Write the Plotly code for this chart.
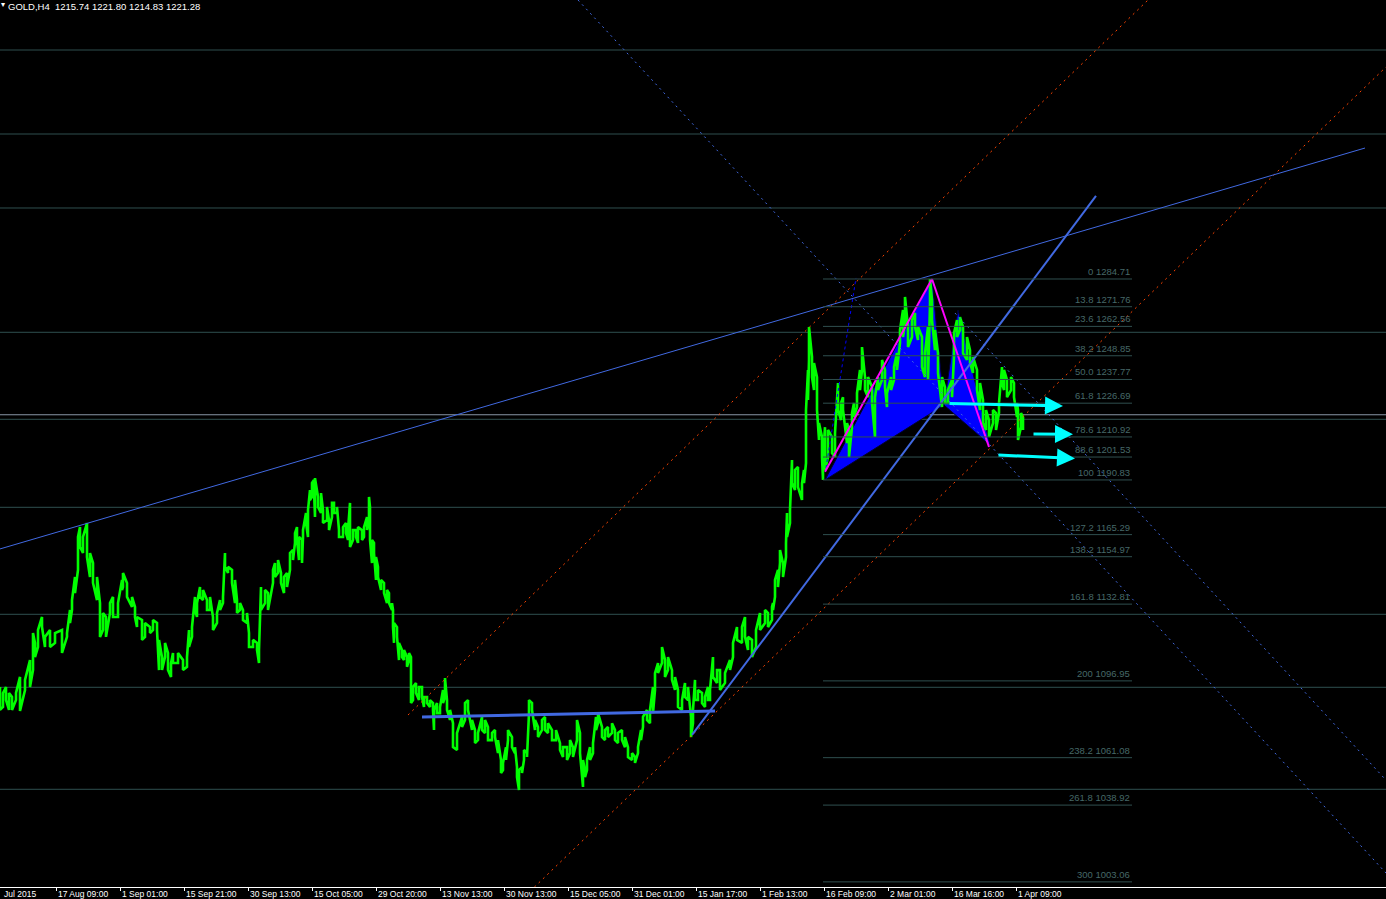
import plotly.graph_objects as go

# ---------------- data ----------------
header_text = "GOLD,H4\u00a0\u00a01215.74 1221.80 1214.83 1221.28"

bar_x = [0, 3, 6, 9, 12, 16, 20, 25, 30, 33, 35, 38, 42, 45, 50, 55, 62, 67, 70, 72, 75, 78, 80, 83, 87, 90, 93, 97,
         100, 103, 106, 110, 113, 118, 122, 123, 127, 132, 135, 137, 142, 145, 150, 153, 157, 159, 162, 165, 168, 171,
         173, 178, 183, 187, 189, 192, 195, 197, 200, 203, 207, 210, 213, 217, 220, 223, 225, 228, 232, 235, 237, 240,
         243, 247, 249, 253, 257, 259, 261, 265, 268, 273, 275, 278, 281, 284, 287, 290, 293, 295, 297, 299, 302, 303,
         306, 308, 310, 312, 314, 315, 318, 321, 323, 327, 329, 332, 334, 337, 339, 343, 346, 348, 350, 353, 356, 358,
         362, 364, 367, 369, 370, 372, 374, 376, 378, 381, 384, 387, 389, 392, 393, 394, 397, 399, 402, 404, 407, 409,
         411, 413, 416, 419, 422, 424, 427, 430, 433, 434, 437, 440, 443, 445, 447, 450, 453, 457, 462, 465, 468, 472,
         475, 478, 482, 485, 488, 492, 495, 498, 501, 503, 506, 508, 512, 515, 517, 519, 522, 524, 527, 529, 532, 535,
         538, 542, 545, 548, 552, 556, 560, 563, 567, 570, 573, 577, 580, 583, 585, 587, 590, 593, 596, 598, 602, 605,
         608, 612, 615, 618, 622, 625, 628, 632, 635, 638, 641, 643, 647, 650, 653, 655, 658, 662, 665, 668, 672, 675,
         678, 682, 685, 688, 691, 693, 695, 698, 702, 705, 708, 710, 713, 717, 720, 725, 730, 733, 737, 742, 745, 748,
         752, 756, 760, 765, 768, 772, 773, 775, 778, 780, 783, 786, 787, 790, 792, 795, 798, 802, 804, 806, 808, 809,
         812, 814, 817, 819, 822, 823, 825, 828, 832, 835, 838, 841, 843, 847, 849, 852, 854, 857, 860, 862, 865, 868,
         872, 875, 878, 882, 885, 887, 891, 894, 897, 900, 903, 905, 908, 912, 915, 918, 922, 925, 928, 930, 932, 935,
         938, 942, 945, 948, 952, 954, 957, 960, 963, 967, 970, 973, 977, 980, 983, 986, 989, 993, 996, 999, 1002,
         1004, 1007, 1011, 1014, 1017, 1018, 1021, 1023]

bar_high = [1094.1, 1091.3, 1094.1, 1091.3, 1089.4, 1091.3, 1098.8, 1097.4, 1106.7, 1119.3, 1114.7, 1120.7, 1126.8,
            1117.5, 1120.7, 1119.3, 1120.7, 1119.3, 1130.1, 1134.7, 1145.5, 1164.2, 1168.8, 1164.2, 1170.7, 1156.7,
            1152.0, 1145.5, 1133.3, 1128.7, 1126.8, 1133.3, 1136.2, 1133.3, 1144.1, 1147.4, 1142.7, 1136.2, 1131.5,
            1126.8, 1125.4, 1124.0, 1122.1, 1125.4, 1124.0, 1116.1, 1108.1, 1114.7, 1110.0, 1105.3, 1110.0, 1110.0,
            1106.7, 1108.1, 1120.7, 1122.1, 1136.2, 1133.3, 1140.8, 1139.4, 1134.7, 1136.2, 1126.8, 1128.7, 1134.7,
            1136.2, 1156.7, 1150.2, 1148.8, 1144.1, 1134.7, 1133.3, 1130.1, 1128.7, 1119.3, 1116.1, 1114.7, 1111.4,
            1140.8, 1139.4, 1138.0, 1148.8, 1152.0, 1153.4, 1147.4, 1145.5, 1147.4, 1156.7, 1158.1, 1166.0, 1168.8,
            1164.2, 1162.8, 1167.4, 1175.4, 1176.8, 1186.1, 1189.4, 1190.8, 1191.7, 1182.9, 1184.7, 1176.8, 1178.2,
            1172.1, 1180.1, 1180.1, 1178.2, 1167.4, 1168.8, 1170.7, 1167.4, 1180.1, 1167.4, 1167.4, 1168.8, 1167.4,
            1168.8, 1173.5, 1182.9, 1178.2, 1162.8, 1161.4, 1154.8, 1150.2, 1144.1, 1142.7, 1139.4, 1138.0, 1133.3,
            1130.1, 1124.0, 1122.1, 1114.7, 1111.4, 1111.4, 1108.1, 1110.0, 1108.1, 1094.1, 1096.0, 1094.1, 1094.1,
            1089.4, 1089.4, 1088.0, 1086.6, 1083.4, 1086.6, 1084.8, 1092.7, 1098.3, 1088.0, 1083.4, 1077.2, 1072.6,
            1080.1, 1086.6, 1088.0, 1078.7, 1074.0, 1072.6, 1080.1, 1078.7, 1075.4, 1072.6, 1074.0, 1069.3, 1060.0,
            1058.6, 1066.0, 1074.0, 1070.7, 1066.0, 1056.7, 1055.3, 1056.7, 1064.7, 1063.2, 1088.0, 1086.6, 1078.7,
            1075.4, 1078.7, 1080.1, 1077.2, 1074.0, 1074.0, 1067.9, 1066.0, 1066.0, 1069.3, 1066.0, 1078.7, 1072.6,
            1060.0, 1055.3, 1060.0, 1066.0, 1067.9, 1080.1, 1081.9, 1075.4, 1074.0, 1075.4, 1077.2, 1074.0, 1072.6,
            1074.0, 1070.7, 1066.0, 1063.2, 1061.4, 1066.0, 1074.0, 1080.1, 1083.4, 1083.4, 1094.1, 1100.6, 1105.3,
            1112.8, 1106.7, 1108.1, 1102.0, 1098.8, 1092.7, 1088.0, 1096.0, 1094.1, 1080.1, 1083.4, 1097.4, 1092.7,
            1091.3, 1089.4, 1094.1, 1092.7, 1108.1, 1102.0, 1102.0, 1100.6, 1106.7, 1114.7, 1122.1, 1122.1, 1126.8,
            1117.5, 1116.1, 1120.7, 1128.7, 1130.1, 1128.7, 1131.5, 1133.3, 1144.1, 1148.8, 1158.1, 1152.0, 1161.4,
            1175.4, 1176.8, 1200.1, 1195.5, 1196.9, 1189.4, 1195.5, 1223.5, 1242.2, 1262.3, 1248.3, 1245.5, 1238.9,
            1217.4, 1210.9, 1201.5, 1215.5, 1214.2, 1210.9, 1212.8, 1236.1, 1226.8, 1229.5, 1217.4, 1214.2, 1222.1,
            1226.8, 1231.4, 1242.2, 1252.9, 1238.9, 1238.9, 1234.2, 1229.5, 1238.9, 1246.9, 1242.2, 1231.4, 1238.9,
            1243.6, 1250.1, 1260.9, 1270.2, 1276.3, 1262.3, 1265.5, 1268.8, 1262.3, 1257.6, 1250.1, 1262.3, 1284.7,
            1274.9, 1260.9, 1250.1, 1238.9, 1234.2, 1232.8, 1237.5, 1259.5, 1265.5, 1266.9, 1262.3, 1257.6, 1251.5,
            1248.3, 1242.2, 1236.1, 1228.2, 1223.5, 1218.8, 1223.5, 1222.1, 1226.8, 1243.6, 1242.2, 1237.5, 1238.9,
            1236.1, 1226.8, 1223.5, 1222.1, 1220.2]

bar_low = [1083.4, 1084.8, 1088.0, 1083.4, 1083.4, 1088.0, 1082.9, 1092.7, 1094.1, 1102.0, 1108.1, 1112.8, 1122.1,
           1112.8, 1112.8, 1114.7, 1110.0, 1117.5, 1124.0, 1130.1, 1138.0, 1148.8, 1159.5, 1156.7, 1154.8, 1145.5,
           1142.7, 1134.7, 1117.5, 1120.7, 1117.5, 1128.7, 1126.8, 1126.8, 1139.4, 1140.8, 1136.2, 1131.5, 1126.8,
           1122.1, 1116.1, 1117.5, 1119.3, 1120.7, 1120.7, 1102.0, 1102.0, 1108.1, 1102.0, 1098.8, 1105.3, 1105.3,
           1102.0, 1103.5, 1112.8, 1117.5, 1130.1, 1126.8, 1136.2, 1134.7, 1130.1, 1130.1, 1120.7, 1124.0, 1130.1,
           1133.3, 1150.2, 1147.4, 1142.7, 1133.3, 1128.7, 1130.1, 1125.4, 1124.0, 1112.8, 1112.8, 1111.4, 1105.3,
           1130.1, 1133.3, 1130.1, 1142.7, 1145.5, 1147.4, 1142.7, 1138.0, 1140.8, 1148.8, 1153.4, 1161.4, 1162.8,
           1153.4, 1152.0, 1164.2, 1170.7, 1164.2, 1181.5, 1182.9, 1186.1, 1173.5, 1178.2, 1175.4, 1170.7, 1172.1,
           1167.4, 1173.5, 1175.4, 1175.4, 1164.2, 1164.2, 1166.0, 1162.8, 1159.5, 1162.8, 1164.2, 1161.4, 1162.8,
           1164.2, 1167.4, 1172.1, 1162.8, 1152.0, 1156.7, 1144.1, 1145.5, 1139.4, 1138.0, 1133.3, 1133.3, 1130.1,
           1122.1, 1114.7, 1117.5, 1106.7, 1108.1, 1106.7, 1103.5, 1106.7, 1086.6, 1088.0, 1091.3, 1088.0, 1089.4,
           1084.8, 1086.6, 1084.8, 1083.4, 1074.0, 1081.9, 1081.9, 1086.6, 1089.4, 1083.4, 1078.7, 1066.0, 1064.7,
           1075.4, 1078.7, 1083.4, 1074.0, 1067.9, 1069.3, 1074.0, 1072.6, 1069.3, 1069.3, 1070.7, 1063.2, 1053.9,
           1055.3, 1060.0, 1069.3, 1066.0, 1063.2, 1052.0, 1046.0, 1053.9, 1060.0, 1061.4, 1081.9, 1083.4, 1074.0,
           1070.7, 1074.0, 1074.0, 1072.6, 1069.3, 1069.3, 1064.7, 1061.4, 1060.0, 1063.2, 1061.4, 1069.3, 1063.2,
           1047.4, 1052.0, 1055.3, 1060.0, 1063.2, 1074.0, 1077.2, 1070.7, 1069.3, 1070.7, 1072.6, 1069.3, 1067.9,
           1069.3, 1066.0, 1061.4, 1060.0, 1058.6, 1063.2, 1069.3, 1075.4, 1078.7, 1077.2, 1081.9, 1092.7, 1100.6,
           1105.3, 1098.8, 1102.0, 1097.4, 1092.7, 1084.8, 1083.4, 1089.4, 1088.0, 1070.7, 1077.2, 1088.0, 1088.0,
           1086.6, 1084.8, 1088.0, 1088.0, 1098.8, 1096.0, 1092.7, 1096.0, 1102.0, 1108.1, 1116.1, 1114.7, 1117.5,
           1111.4, 1108.1, 1112.8, 1120.7, 1124.0, 1122.1, 1125.4, 1130.1, 1136.2, 1140.8, 1152.0, 1145.5, 1154.8,
           1164.2, 1170.7, 1189.4, 1186.1, 1187.5, 1181.5, 1189.4, 1198.7, 1228.2, 1246.9, 1238.9, 1232.8, 1223.5,
           1209.5, 1201.5, 1190.8, 1195.5, 1201.5, 1203.4, 1201.5, 1223.5, 1218.8, 1223.5, 1208.1, 1201.5, 1215.5,
           1220.2, 1224.9, 1232.8, 1242.2, 1232.8, 1229.5, 1226.8, 1210.9, 1232.8, 1237.5, 1234.2, 1224.9, 1232.8,
           1237.5, 1242.2, 1254.8, 1257.6, 1264.1, 1252.9, 1257.6, 1262.3, 1256.2, 1243.6, 1238.9, 1237.5, 1272.6,
           1265.5, 1251.5, 1240.8, 1224.9, 1226.8, 1226.8, 1229.5, 1248.3, 1257.6, 1260.9, 1250.1, 1246.9, 1245.5,
           1240.8, 1232.8, 1223.5, 1217.4, 1214.2, 1210.9, 1217.4, 1214.2, 1222.1, 1236.1, 1232.8, 1229.5, 1232.8,
           1229.5, 1220.2, 1209.5, 1215.5, 1214.2]

bid_price = 1221.28
h_levels = [1391.69, 1352.45, 1317.88, 1259.81, 1219.16, 1178.05, 1128.06, 1093.96, 1046.31]

fib_names = ["0", "13.8", "23.6", "38.2", "50.0", "61.8", "78.6", "88.6", "100",
             "127.2", "138.2", "161.8", "200", "238.2", "261.8", "300"]
fib_prices = [1284.71, 1271.76, 1262.56, 1248.85, 1237.77, 1226.69, 1210.92, 1201.53, 1190.83,
              1165.29, 1154.97, 1132.81, 1096.95, 1061.08, 1038.92, 1003.06]
fib_bars = [823, 1132]

# trend lines: (bar, price) anchors
trend_upper = ([0, 1365], [1158.6, 1345.9])
trend_rise = ([692, 1096], [1071.7, 1323.5])
trend_flat = ([422, 715], [1080.1, 1082.9])
chan_red_upper = ([408, 1148], [1081.0, 1415.05])
chan_red_lower = ([530, 1386], [998.65, 1383.75])
dot_blue_a = ([578, 1386], [1415.05, 1007.2])
dot_blue_b = ([955, 1386], [1268.8, 1050.6])
dash_blue_steep = ([826, 856], [1196.4, 1285.2])

# harmonic pattern points X, A, B, C, D
pat_x = [825, 932, 944, 958, 990]
pat_p = [1190.8, 1284.7, 1225.8, 1270.2, 1207.2]
leg_xa = ([825, 932], [1194.7, 1284.7])
leg_ad = ([932, 989], [1284.7, 1206.2])

# cyan arrows: tail bar, tail price, head bar, head price
arrows = [(948, 1226.6, 1063, 1225.4),
          (1032, 1212.3, 1073, 1212.2),
          (997, 1202.5, 1075, 1200.9)]

tick_pos = [56, 120, 184, 248, 312, 376, 440, 504, 568, 632, 696, 760, 824, 888, 952, 1016]
tick_labels = ["17 Aug 09:00", "1 Sep 01:00", "15 Sep 21:00", "30 Sep 13:00", "15 Oct 05:00",
               "29 Oct 20:00", "13 Nov 13:00", "30 Nov 13:00", "15 Dec 05:00", "31 Dec 01:00",
               "15 Jan 17:00", "1 Feb 13:00", "16 Feb 09:00", "2 Mar 01:00", "16 Mar 16:00", "1 Apr 09:00"]
first_label = "Jul 2015"

# ---------------- figure ----------------
W, H = 1386, 899
FONT = "Liberation Sans, Arial, sans-serif"
GRID = "#2f4f4f"
fig = go.Figure()

# pattern fills
tri1 = [0, 1, 2, 0]
tri2 = [2, 3, 4, 2]
for tri in (tri1, tri2):
    fig.add_trace(go.Scatter(x=[pat_x[i] for i in tri], y=[pat_p[i] for i in tri],
                             mode="lines", fill="toself", fillcolor="#0000ff",
                             line=dict(color="#000033", width=1), hoverinfo="skip"))

# price bars (high-low snake)
xs, ys = [], []
for i, (bx, hi, lo) in enumerate(zip(bar_x, bar_high, bar_low)):
    xs += [bx, bx]
    ys += [hi, lo] if i % 2 == 0 else [lo, hi]
fig.add_trace(go.Scatter(x=xs, y=ys, mode="lines", line=dict(color="#00ff00", width=2.6),
                         hoverinfo="skip"))


def add_line(pts, color, width=1, dash="solid"):
    fig.add_trace(go.Scatter(x=pts[0], y=pts[1], mode="lines",
                             line=dict(color=color, width=width, dash=dash), hoverinfo="skip"))


add_line(chan_red_upper, "#ff4500", 1, "2px,4px")
add_line(chan_red_lower, "#ff4500", 1, "2px,4px")
add_line(dot_blue_a, "#4169e1", 1, "2px,4px")
add_line(dot_blue_b, "#4169e1", 1, "2px,4px")
add_line(dash_blue_steep, "#0000ff", 1, "3px,3px")
add_line(trend_upper, "#4169e1", 1)
add_line(trend_rise, "#4169e1", 2)
add_line(trend_flat, "#4169e1", 3)
add_line(leg_xa, "#ff00ff", 2)
add_line(leg_ad, "#ff00ff", 2)

shapes = []
for p in h_levels:
    shapes.append(dict(type="line", xref="paper", x0=0, x1=1, yref="y", y0=p, y1=p,
                       line=dict(color=GRID, width=1), layer="below"))
shapes.append(dict(type="line", xref="paper", x0=0, x1=1, yref="y", y0=bid_price, y1=bid_price,
                   line=dict(color="#8896a6", width=1), layer="below"))
for p in fib_prices:
    shapes.append(dict(type="line", xref="x", x0=fib_bars[0], x1=fib_bars[1], yref="y", y0=p, y1=p,
                       line=dict(color=GRID, width=1), layer="above"))

annotations = []
for n, p in zip(fib_names, fib_prices):
    annotations.append(dict(x=fib_bars[1], y=p, xref="x", yref="y", text=f"{n} {p:.2f}",
                            showarrow=False, xanchor="right", yanchor="bottom", yshift=0,
                            font=dict(family=FONT, size=9.5, color="#466868")))
for (tx, tp, hx, hp) in arrows:
    annotations.append(dict(x=hx, y=hp, ax=tx, ay=tp, xref="x", yref="y", axref="x", ayref="y",
                            text="", showarrow=True, arrowhead=2, arrowsize=1.2, arrowwidth=3,
                            arrowcolor="#00ffff"))
annotations.append(dict(x=3 / W, y=1, xref="paper", yref="paper", text="\u25be",
                        showarrow=False, xanchor="center", yanchor="top", yshift=2,
                        font=dict(family=FONT, size=8, color="#ffffff")))
annotations.append(dict(x=6 / W, y=1, xref="paper", yref="paper", text=header_text,
                        showarrow=False, xanchor="left", yanchor="top", yshift=1,
                        font=dict(family=FONT, size=9.5, color="#ffffff")))
annotations.append(dict(x=2, y=0, xref="x", yref="paper", text=first_label, showarrow=False,
                        xanchor="left", yanchor="top", yshift=0,
                        font=dict(family=FONT, size=8.5, color="#ffffff")))
for tp_, tl in zip(tick_pos, tick_labels):
    annotations.append(dict(x=tp_, y=0, xref="x", yref="paper", text=tl, showarrow=False,
                            xanchor="left", yanchor="top", yshift=0,
                            font=dict(family=FONT, size=8.5, color="#ffffff")))

fig.update_layout(
    width=W, height=H, template="none",
    paper_bgcolor="#000000", plot_bgcolor="#000000",
    margin=dict(l=0, r=0, t=0, b=12, pad=0),
    showlegend=False, shapes=shapes, annotations=annotations,
    xaxis=dict(range=[0, W], showgrid=False, zeroline=False, showline=True, linecolor="#ffffff",
               linewidth=1, ticks="outside", ticklen=3, tickcolor="#ffffff", tickwidth=1,
               tickvals=tick_pos, showticklabels=False, automargin=False, fixedrange=True),
    yaxis=dict(range=[1000.66, 1415.05], showgrid=False, zeroline=False, showline=False,
               showticklabels=False, ticks="", automargin=False, fixedrange=True),
)

fig.write_html("out.html", config={"displayModeBar": False, "staticPlot": True},
               post_script="document.body.style.margin='0';document.body.style.overflow='hidden';")
